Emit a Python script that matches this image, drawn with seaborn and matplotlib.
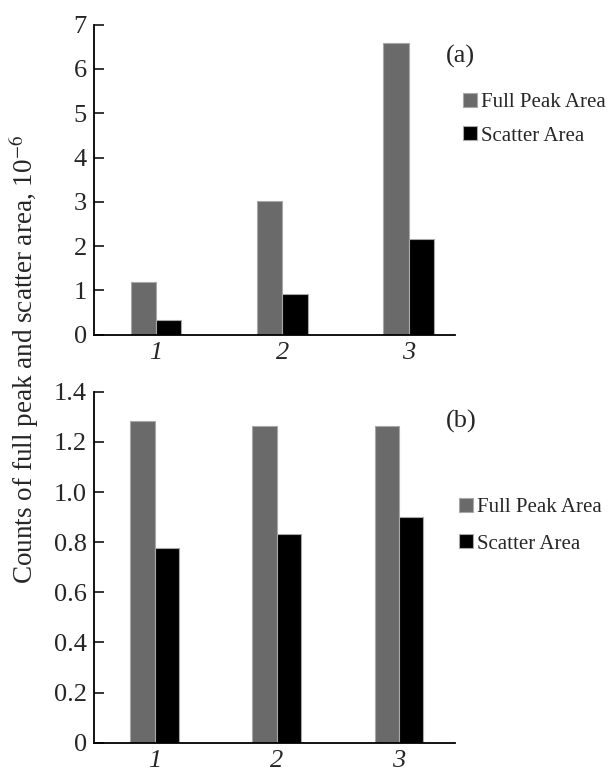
import pandas as pd
import matplotlib
matplotlib.use("Agg")
import matplotlib.pyplot as plt
import seaborn as sns

# values (counts x 10^-6)
samples = ['1', '2', '3']
series_names = ['Full Peak Area', 'Scatter Area']
full_peak_a = [1.20, 3.02, 6.59]
scatter_a = [0.33, 0.91, 2.15]
full_peak_b = [1.285, 1.263, 1.263]
scatter_b = [0.778, 0.832, 0.902]
yticks_a = [0, 1, 2, 3, 4, 5, 6, 7]
yticks_b = [0, 0.2, 0.4, 0.6, 0.8, 1.0, 1.2, 1.4]
yticklabels_b = ['0', '0.2', '0.4', '0.6', '0.8', '1.0', '1.2', '1.4']

GRAY = '#6a6a6a'


def make_frame(full, scatter):
    return pd.DataFrame({
        'sample': samples * 2,
        'value': full + scatter,
        'series': [series_names[0]] * len(samples) + [series_names[1]] * len(samples),
    })


sns.set_style("ticks")
plt.rcParams['font.family'] = ['Liberation Serif', 'DejaVu Serif']
plt.rcParams['mathtext.fontset'] = 'stix'

fig = plt.figure(figsize=(6.1, 7.69), dpi=100)
ax_a = fig.add_axes([0.1536, 0.5648, 0.5923, 0.4031])
ax_b = fig.add_axes([0.1536, 0.0342, 0.5923, 0.4564])

panels = [
    (ax_a, make_frame(full_peak_a, scatter_a), (-0.493, 2.367), (0, 7), yticks_a, None,
     '(a)', 0.927, (0.759, 0.8448), 0.67),
    (ax_b, make_frame(full_peak_b, scatter_b), (-0.499, 2.458), (0, 1.4), yticks_b, yticklabels_b,
     '(b)', 0.4516, (0.753, 0.3164), 0.83),
]

for ax, df, xlim, ylim, yt, ytl, tag, tag_y, leg_xy, spacing in panels:
    sns.barplot(data=df, x='sample', y='value', hue='series', palette=[GRAY, 'black'],
                width=0.4, saturation=1, edgecolor='#a8a8a8', linewidth=0.8, ax=ax)
    sns.despine(ax=ax)
    for side in ['left', 'bottom']:
        ax.spines[side].set_linewidth(1.3)
        ax.spines[side].set_color('black')
    ax.set_xlim(*xlim)
    ax.set_ylim(*ylim)
    ax.set_yticks(yt)
    if ytl is not None:
        ax.set_yticklabels(ytl)
    ax.tick_params(axis='y', direction='in', length=7.5, width=1.3, pad=5, labelsize=19)
    ax.tick_params(axis='x', length=0, pad=5, labelsize=19)
    for lab in ax.get_xticklabels():
        lab.set_fontstyle('italic')
    ax.set_xlabel('')
    ax.set_ylabel('')

    handles, labels = ax.get_legend_handles_labels()
    ax.legend(handles, labels, loc='center left', bbox_to_anchor=leg_xy,
              bbox_transform=fig.transFigure, frameon=False, fontsize=15,
              borderpad=0, borderaxespad=0, handlelength=0.65, handleheight=0.65,
              handletextpad=0.2, labelspacing=spacing)
    fig.text(0.731, tag_y, tag, fontsize=19, ha='left', va='center')

fig.text(0.039, 0.5325, 'Counts of full peak and scatter area, 10$^{-6}$',
         rotation=90, ha='center', va='center', fontsize=19.5)

fig.savefig('out.png', dpi=100)
